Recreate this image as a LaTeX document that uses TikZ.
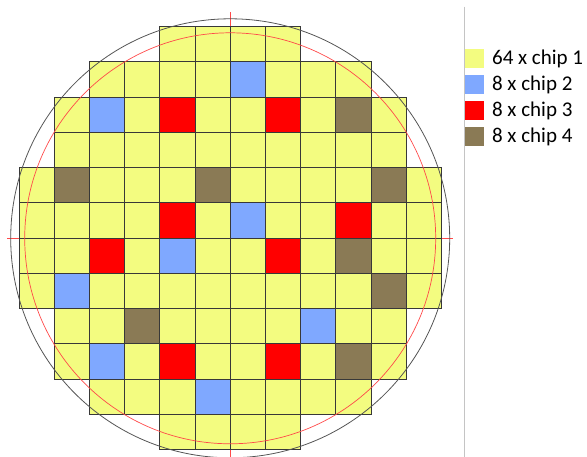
\documentclass[tikz,border=0pt]{standalone}
\usepackage{fontspec}
\setmainfont{Carlito}
\usetikzlibrary{positioning}
\definecolor{wfyellow}{HTML}{F3FC80}
\definecolor{wfblue}{HTML}{7FA8FF}
\definecolor{wfred}{HTML}{FF0000}
\definecolor{wfbrown}{HTML}{8A7A55}
\definecolor{wfgray}{HTML}{555555}
\definecolor{wfline}{HTML}{C4C4C4}
\definecolor{wfrim}{HTML}{FF4A4A}

\begin{document}
\begin{tikzpicture}[
  x=1pt, y=1pt,
  every node/.style={font=\fontsize{21}{25}\selectfont},
  die/.style={draw=black!78, line width=0.9pt},
  swatch/.style={rectangle, minimum width=19pt, minimum height=19pt, inner sep=0pt},
]
\clip (0,0) rectangle (587,457);
% crosshair, under the dies
\coordinate (ctr) at (230.2,218.7);
\draw[wfrim, line width=0.7pt] ([xshift=-223.2pt]ctr) -- ([xshift=223.2pt]ctr);
\draw[wfrim, line width=0.7pt] ([yshift=225.8pt]ctr) -- ([yshift=-225.8pt]ctr);
% dies, row by row (top row is 0)
\foreach \r/\a/\b in {0/4/7, 1/2/9, 2/1/10, 3/1/10, 4/0/11, 5/0/11, 6/0/11, 7/0/11, 8/1/10, 9/1/10, 10/2/9, 11/4/7} {
  \foreach \c in {\a,...,\b}
    \filldraw[die, fill=wfyellow] ({19+35.2*\c},{430.3-35.25*\r}) rectangle ++(35.2,-35.25);
}
% chip 2
\foreach \r/\c in {1/6, 2/2, 5/6, 6/4, 7/1, 8/8, 9/2, 10/5}
  \filldraw[die, fill=wfblue] ({19+35.2*\c},{430.3-35.25*\r}) rectangle ++(35.2,-35.25);
% chip 3
\foreach \r/\c in {2/4, 2/7, 5/4, 5/9, 6/2, 6/7, 9/4, 9/7}
  \filldraw[die, fill=wfred] ({19+35.2*\c},{430.3-35.25*\r}) rectangle ++(35.2,-35.25);
% chip 4
\foreach \r/\c in {2/9, 4/1, 4/5, 4/10, 6/9, 7/10, 8/3, 9/9}
  \filldraw[die, fill=wfbrown] ({19+35.2*\c},{430.3-35.25*\r}) rectangle ++(35.2,-35.25);
% wafer rim and edge exclusion
\draw[wfgray, line width=0.8pt] (ctr) circle[radius=219.5];
\draw[wfrim, line width=0.7pt] (ctr) circle[radius=205.5];
% legend
\coordinate (sepTop) at (464,450.3);
\coordinate (sepBot) at (464,0);
\draw[wfline, line width=1pt] (sepTop) -- (sepBot);
\node[swatch, fill=wfyellow] (sw1) at (474.2,398.5) {};
\node[swatch, fill=wfblue, below=6.7pt of sw1] (sw2) {};
\node[swatch, fill=wfred, below=6.7pt of sw2] (sw3) {};
\node[swatch, fill=wfbrown, below=6.7pt of sw3] (sw4) {};
\node[right=5pt of sw1, inner sep=3pt] (lb1) {64 x chip 1};
\node[right=5pt of sw2, inner sep=3pt] (lb2) {8 x chip 2};
\node[right=5pt of sw3, inner sep=3pt] (lb3) {8 x chip 3};
\node[right=5pt of sw4, inner sep=3pt] (lb4) {8 x chip 4};
\end{tikzpicture}
\end{document}
